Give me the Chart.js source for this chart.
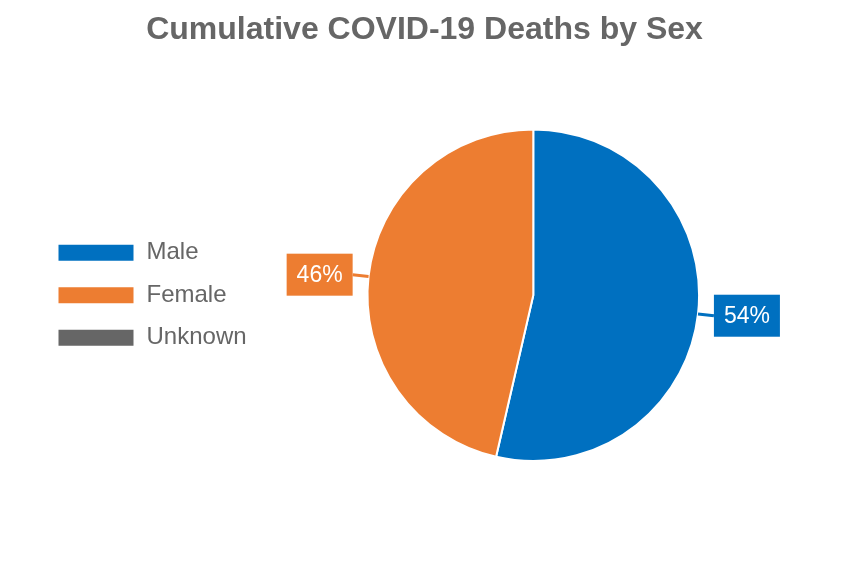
<!DOCTYPE html>
<html>
<head>
<meta charset="utf-8">
<script src="https://cdn.jsdelivr.net/npm/chart.js@4"></script>
<style>
  html, body { margin: 0; padding: 0; background: #fff; }
  #wrap { width: 852px; height: 564px; }
</style>
</head>
<body>
<div id="wrap"><canvas id="chartSexo"></canvas></div>
<script>
const categorias = ['Male', 'Female', 'Unknown'];
const porcentajes = [53.6, 46.4, 0];
const etiquetas = ['54%', '46%', ''];
const colores = ['#0070c0', '#ed7d31', '#666666'];

// dibuja las cajitas con el porcentaje afuera de cada rebanada
const etiquetasCaja = {
    id: 'etiquetasCaja',
    afterDatasetsDraw(chart) {
        const ctx = chart.ctx;
        const meta = chart.getDatasetMeta(0);
        ctx.save();
        ctx.font = '23px "Liberation Sans", Arial, sans-serif';
        ctx.textBaseline = 'middle';
        ctx.textAlign = 'center';
        meta.data.forEach((arco, i) => {
            if (!etiquetas[i]) return;
            const p = arco.getProps(['x', 'y', 'startAngle', 'endAngle', 'outerRadius'], true);
            const ang = (p.startAngle + p.endAngle) / 2;
            const cos = Math.cos(ang), sin = Math.sin(ang);
            const x1 = p.x + cos * p.outerRadius, y1 = p.y + sin * p.outerRadius;
            const x2 = p.x + cos * (p.outerRadius + 16), y2 = p.y + sin * (p.outerRadius + 16);
            ctx.strokeStyle = colores[i];
            ctx.lineWidth = 3;
            ctx.beginPath();
            ctx.moveTo(x1, y1);
            ctx.lineTo(x2, y2);
            ctx.stroke();
            const w = 66, h = 42;
            const bx = cos < 0 ? x2 - w : x2;
            const by = y2 - h / 2;
            ctx.fillStyle = colores[i];
            ctx.fillRect(bx, by, w, h);
            ctx.fillStyle = '#fff';
            ctx.fillText(etiquetas[i], bx + w / 2, by + h / 2 + 1);
        });
        ctx.restore();
    }
};

new Chart(document.getElementById('chartSexo').getContext('2d'), {
    type: 'pie',
    data: {
        labels: categorias,
        datasets: [{
            data: porcentajes,
            backgroundColor: colores,
            borderColor: '#fff',
            borderWidth: 2
        }]
    },
    options: {
        responsive: true,
        maintainAspectRatio: false,
        animation: false,
        layout: { padding: { top: 0, bottom: 102, left: 39, right: 42 } },
        plugins: {
            title: {
                display: true,
                text: 'Cumulative COVID-19 Deaths by Sex',
                color: '#666',
                font: { family: '"Liberation Sans", Arial, sans-serif', size: 32, weight: 'bold' },
                padding: { top: 11, bottom: 79 }
            },
            legend: {
                position: 'left',
                fullSize: false,
                labels: {
                    boxWidth: 77,
                    boxHeight: 18,
                    padding: 18.5,
                    color: '#666',
                    font: { family: '"Liberation Sans", Arial, sans-serif', size: 24 }
                }
            },
            tooltip: { enabled: false }
        }
    },
    plugins: [etiquetasCaja]
});
</script>
</body>
</html>
